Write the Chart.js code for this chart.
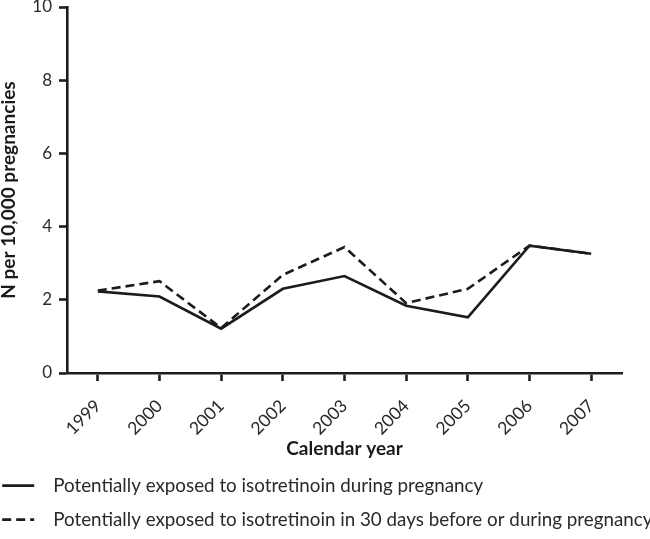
<!DOCTYPE html>
<html>
<head>
<meta charset="utf-8">
<script src="https://cdn.jsdelivr.net/npm/chart.js@4.4.1/dist/chart.umd.min.js"></script>
<style>
  html, body { margin: 0; padding: 0; background: #ffffff; }
  #wrap { width: 650px; height: 539px; }
</style>
</head>
<body>
<div id="wrap"><canvas id="c" width="650" height="539"></canvas></div>
<script>
const years = ['1999', '2000', '2001', '2002', '2003', '2004', '2005', '2006', '2007'];
const duringPregnancy = [2.23, 2.09, 1.21, 2.30, 2.65, 1.84, 1.52, 3.48, 3.26];
const before30OrDuring = [2.25, 2.51, 1.23, 2.68, 3.44, 1.91, 2.30, 3.48, 3.26];
const seriesNames = [
  'Potentially exposed to isotretinoin during pregnancy',
  'Potentially exposed to isotretinoin in 30 days before or during pregnancy'
];
const yTicks = [0, 2, 4, 6, 8, 10];
const yTitle = 'N per 10,000 pregnancies';
const xTitle = 'Calendar year';

const ink = '#1c1c1c';
const fontFamily = 'Lato, "Open Sans", sans-serif';
const lineW = 2.6;

new Chart(document.getElementById('c'), {
  type: 'line',
  data: {
    labels: years,
    datasets: [
      {
        label: seriesNames[0],
        data: duringPregnancy,
        borderColor: ink,
        backgroundColor: ink,
        borderWidth: lineW,
        pointRadius: 0,
        tension: 0,
        fill: false
      },
      {
        label: seriesNames[1],
        data: before30OrDuring,
        borderColor: ink,
        backgroundColor: ink,
        borderWidth: lineW,
        borderDash: [9, 5],
        pointRadius: 0,
        tension: 0,
        fill: false
      }
    ]
  },
  options: {
    responsive: false,
    animation: false,
    layout: { padding: { left: -13, right: 0, top: 7, bottom: 0 } },
    plugins: {
      tooltip: { enabled: false },
      legend: {
        display: true,
        position: 'bottom',
        align: 'start',
        labels: {
          usePointStyle: true,
          pointStyle: 'line',
          pointStyleWidth: 32,
          padding: 15.2,
          color: '#2a2a2a',
          font: { family: fontFamily, size: 18.8 },
          generateLabels: (chart) => {
            const items = Chart.defaults.plugins.legend.labels.generateLabels(chart);
            items.forEach((it) => {
              const ds = chart.data.datasets[it.datasetIndex];
              it.text = '  ' + it.text;
              it.pointStyle = 'line';
              it.lineDash = ds.borderDash || [];
              it.lineWidth = ds.borderWidth;
              it.strokeStyle = ds.borderColor;
            });
            return items;
          }
        }
      }
    },
    scales: {
      x: {
        offset: true,
        afterFit: (scale) => { scale.height = 88; },
        border: { display: true, color: ink, width: lineW },
        grid: { display: true, drawOnChartArea: false, drawTicks: true, tickLength: 8, tickWidth: lineW, tickColor: ink, offset: false },
        ticks: {
          color: '#2a2a2a',
          font: { family: fontFamily, size: 17.5, lineHeight: '0px' },
          maxRotation: 45,
          minRotation: 45,
          autoSkip: false,
          padding: 22
        },
        title: {
          display: true,
          text: xTitle,
          color: '#1a1a1a',
          font: { family: fontFamily, size: 19, weight: 'bold' },
          padding: { top: 0, bottom: 1 }
        }
      },
      y: {
        min: 0,
        max: 10,
        afterFit: (scale) => { scale.width = 80; },
        afterBuildTicks: (scale) => { scale.ticks = yTicks.map(v => ({ value: v })); },
        border: { display: true, color: ink, width: lineW },
        grid: {
          display: true, drawOnChartArea: false, drawTicks: true,
          tickLength: 8, tickWidth: lineW, tickColor: ink
        },
        ticks: {
          color: '#2a2a2a',
          font: { family: fontFamily, size: 17, lineHeight: '0px' },
          autoSkip: false,
          padding: 7
        },
        title: {
          display: true,
          text: yTitle,
          color: '#1a1a1a',
          font: { family: fontFamily, size: 19, weight: 'bold' },
          padding: { top: 10.5, bottom: 0 }
        }
      },
      spacer: {
        type: 'linear',
        position: 'right',
        display: true,
        afterFit: (scale) => { scale.width = 28; },
        border: { display: false },
        grid: { display: false, drawTicks: false },
        ticks: { display: false },
        title: { display: false }
      }
    }
  }
});
</script>
</body>
</html>
